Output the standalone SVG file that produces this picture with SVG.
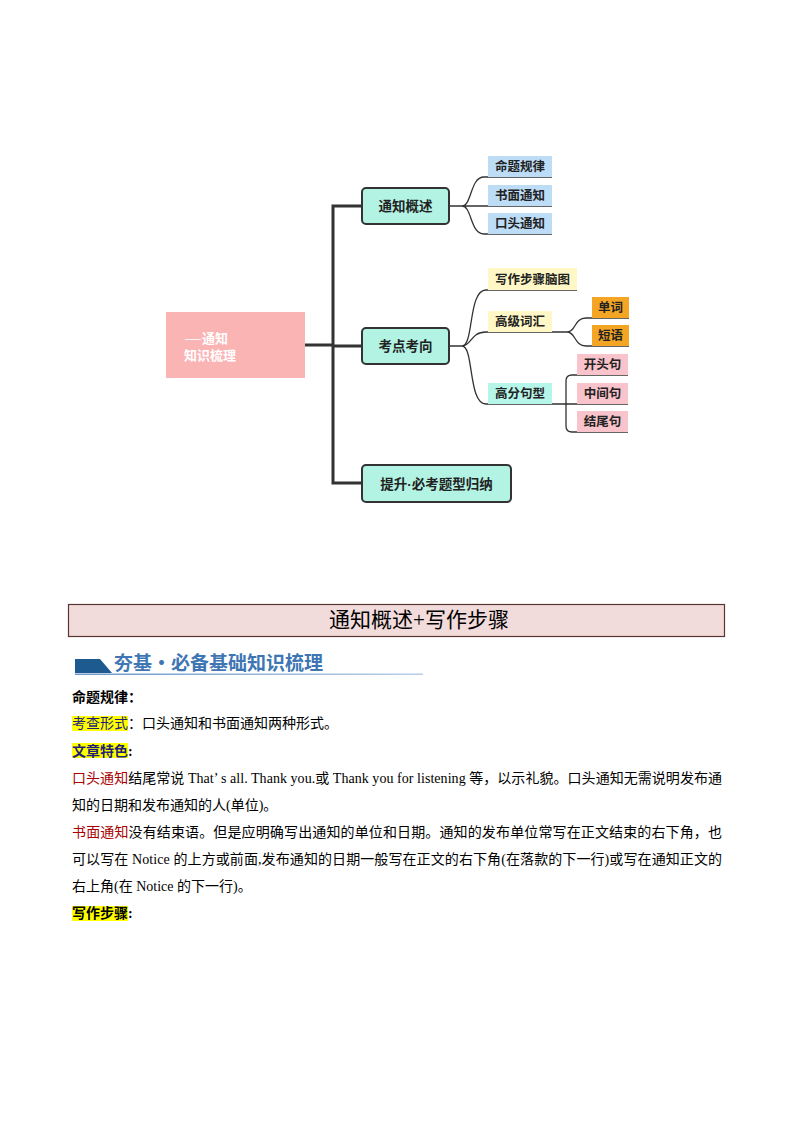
<svg xmlns="http://www.w3.org/2000/svg" width="794" height="1123" viewBox="0 0 794 1123">
<defs>
<style>
.box{fill:#b3f3e4;stroke:#333;stroke-width:2}
.bt{font-family:"Noto Sans CJK SC",sans-serif;font-weight:bold;font-size:13.5px;fill:#222;text-anchor:middle}
.lt{font-family:"Noto Sans CJK SC",sans-serif;font-weight:bold;font-size:12.5px;fill:#222;text-anchor:middle}
.trunk{fill:none;stroke:#333;stroke-width:3}
.br{fill:none;stroke:#333;stroke-width:1.3}
.body{font-family:"Liberation Serif","Noto Sans CJK SC",serif;font-size:14px;fill:#000}
.hl{fill:#ffff00}
.red{fill:#a80000}
</style>
<linearGradient id="ul" x1="0" x2="1" y1="0" y2="0">
<stop offset="0" stop-color="#6f97c8"/>
<stop offset="1" stop-color="#b9cfe8"/>
</linearGradient>
</defs>
<rect width="794" height="1123" fill="#fff"/>

<g id="connectors">
<path class="trunk" d="M305,345 H333 M362,206 H333 V483 H362 M333,346 H362"/>
<path class="br" d="M449,206 H552 M462,206 C472,206 470,177 484,177 H552 M462,206 C472,206 470,234 484,234 H552"/>
<path class="br" d="M449,346 H462 C474,346 468,290 486,290 H577 M462,346 C472,346 470,332 486,332 H567 M462,346 C474,346 468,404 486,404 H567"/>
<path class="br" d="M567,332 C576,332 574,318 586,318 H629 M567,332 C576,332 574,346 586,346 H629"/>
<path class="br" d="M566,404 H628 M566,404 V381 Q566,375 572,375 H628 M566,404 V426 Q566,432 572,432 H628"/>
</g>

<g id="root">
<rect x="166" y="312" width="139" height="66" fill="#fbb4b4"/>
<text x="184" y="343" font-family="Noto Sans CJK SC,sans-serif" font-weight="bold" font-size="13" fill="#fff"><tspan font-family="Noto Sans CJK SC" font-weight="normal" textLength="18" lengthAdjust="spacingAndGlyphs">—</tspan>通知</text>
<text x="184" y="360" font-family="Noto Sans CJK SC,sans-serif" font-weight="bold" font-size="13" fill="#fff">知识梳理</text>
</g>

<g id="n-gaishu">
<rect class="box" x="362" y="188" width="87" height="36" rx="4"/>
<text class="bt" x="405.5" y="211">通知概述</text>
</g>
<g id="n-kaodian">
<rect class="box" x="362" y="328" width="87" height="36" rx="4"/>
<text class="bt" x="405.5" y="351">考点考向</text>
</g>
<g id="n-tisheng">
<rect class="box" x="362" y="465" width="149" height="37" rx="4"/>
<text class="bt" x="436.5" y="488.5">提升<tspan font-family="Liberation Sans,sans-serif">·</tspan>必考题型归纳</text>
</g>

<g id="l-mingti"><rect x="488" y="156" width="64" height="21" fill="#bddcf6"/><text class="lt" x="520" y="171">命题规律</text></g>
<g id="l-shumian"><rect x="488" y="185" width="64" height="21" fill="#bddcf6"/><text class="lt" x="520" y="200">书面通知</text></g>
<g id="l-koutou"><rect x="488" y="213" width="64" height="21" fill="#bddcf6"/><text class="lt" x="520" y="228">口头通知</text></g>

<g id="l-xiezuo"><rect x="488" y="268" width="89" height="22" fill="#fff8c6"/><text class="lt" x="532.5" y="283.5">写作步骤脑图</text></g>
<g id="l-gaoji"><rect x="488" y="311" width="64" height="21" fill="#fff8c6"/><text class="lt" x="520" y="326">高级词汇</text></g>
<g id="l-danci"><rect x="592" y="297" width="37" height="21" fill="#f5a524"/><text class="lt" x="610.5" y="312">单词</text></g>
<g id="l-duanyu"><rect x="592" y="325" width="37" height="21" fill="#f5a524"/><text class="lt" x="610.5" y="340">短语</text></g>
<g id="l-gaofen"><rect x="488" y="383" width="64" height="21" fill="#b6f5ea"/><text class="lt" x="520" y="398">高分句型</text></g>
<g id="l-kaitou"><rect x="577" y="354" width="51" height="21" fill="#f9c3cb"/><text class="lt" x="602.5" y="369">开头句</text></g>
<g id="l-zhongjian"><rect x="577" y="383" width="51" height="21" fill="#f9c3cb"/><text class="lt" x="602.5" y="398">中间句</text></g>
<g id="l-jiewei"><rect x="577" y="411" width="51" height="21" fill="#f9c3cb"/><text class="lt" x="602.5" y="426">结尾句</text></g>

<g id="title-bar">
<rect x="68.5" y="604.5" width="656" height="32" fill="#f2dcdb" stroke="#5b3434" stroke-width="1.2"/>
<text x="419" y="627" font-family="Liberation Serif,Noto Sans CJK SC,serif" font-size="21" text-anchor="middle" fill="#000">通知概述+写作步骤</text>
</g>

<g id="section-header">
<polygon points="75,659 100,659 112,673 75,673" fill="#1d5a8f"/>
<text x="114" y="670" font-family="Liberation Serif,Noto Sans CJK SC,serif" font-weight="bold" font-size="19" fill="#3e76b4">夯基<tspan font-family="Noto Sans CJK SC,sans-serif">·</tspan>必备基础知识梳理</text>
<rect x="75" y="673.5" width="348" height="1.5" fill="url(#ul)"/>
</g>

<g id="body">
<text class="body" x="72" y="702" font-weight="bold">命题规律：</text>
<rect class="hl" x="72" y="716" width="56" height="15"/>
<text class="body" x="72" y="728"><tspan fill="#1f1f7a">考查形式</tspan>：口头通知和书面通知两种形式。</text>
<rect class="hl" x="72" y="743" width="56" height="15"/>
<text class="body" x="72" y="756" font-weight="bold"><tspan fill="#1f1f7a">文章特色</tspan>:</text>
<text class="body" x="72" y="783" textLength="650" lengthAdjust="spacing"><tspan class="red">口头通知</tspan>结尾常说 That’ s all. Thank you.或 Thank you for listening 等，以示礼貌。口头通知无需说明发布通</text>
<text class="body" x="72" y="810">知的日期和发布通知的人(单位)。</text>
<text class="body" x="72" y="837" textLength="650" lengthAdjust="spacing"><tspan class="red">书面通知</tspan>没有结束语。但是应明确写出通知的单位和日期。通知的发布单位常写在正文结束的右下角，也</text>
<text class="body" x="72" y="864" textLength="650" lengthAdjust="spacing">可以写在 Notice 的上方或前面,发布通知的日期一般写在正文的右下角(在落款的下一行)或写在通知正文的</text>
<text class="body" x="72" y="891">右上角(在 Notice 的下一行)。</text>
<rect class="hl" x="72" y="906" width="56" height="15"/>
<text class="body" x="72" y="918" font-weight="bold">写作步骤:</text>
</g>
</svg>
